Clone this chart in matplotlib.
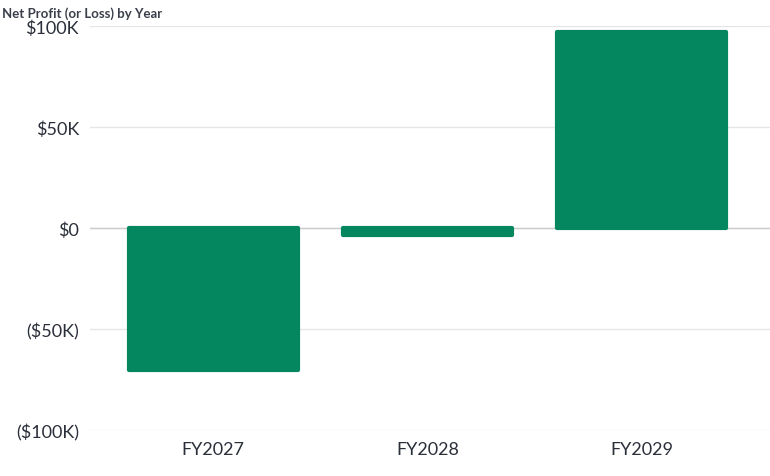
import matplotlib
matplotlib.use("Agg")
import matplotlib.pyplot as plt
from matplotlib.ticker import FuncFormatter

years = ["FY2027", "FY2028", "FY2029"]
profit = [-70000, -3500, 97000]

plt.rcParams['font.family'] = ['Lato', 'DejaVu Sans']
fig = plt.figure(figsize=(7.7, 4.77), dpi=100)
ax = fig.add_axes([0.117, 0.096, 0.883, 0.847])
ax.bar(range(len(years)), profit, width=0.79, color="#04865F",
       edgecolor="#04865F", linewidth=3, joinstyle="round", zorder=3)
ax.set_xlim(-0.575, 2.60)
ax.set_ylim(-100000, 100000)
ax.set_yticks([-100000, -50000, 0, 50000, 100000])
def fmt(v, _):
    k = int(round(abs(v) / 1000))
    s = "$%dK" % k if k else "$0"
    return "(%s)" % s if v < 0 else s
ax.yaxis.set_major_formatter(FuncFormatter(fmt))
ax.set_xticks(range(len(years)))
ax.set_xticklabels(years)
ax.tick_params(length=0, labelsize=13, colors="#2b2f3a", pad=8)
ax.grid(axis="y", color="#e6e6e6", linewidth=1, zorder=0)
ax.axhline(0, color="#cccccc", linewidth=1, zorder=2)
for s in ax.spines.values():
    s.set_visible(False)
fig.text(0.003, 0.985, "Net Profit (or Loss) by Year", fontsize=9.5,
         fontweight="bold", color="#3a3f4a", va="top", ha="left")
fig.savefig("out.png", dpi=100)
